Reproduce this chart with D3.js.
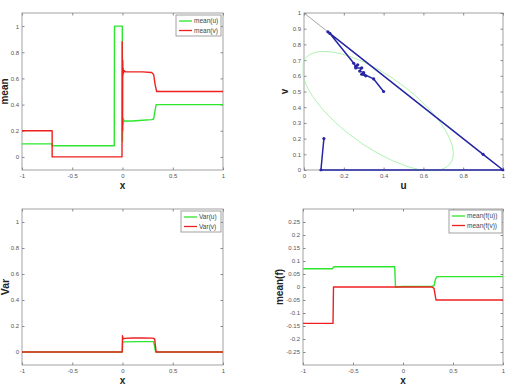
<!DOCTYPE html>
<html>
<head>
<meta charset="utf-8">
<script src="https://cdn.jsdelivr.net/npm/d3@7"></script>
<style>
  body { margin: 0; background: #fff; }
  svg { font-family: "Liberation Sans", Arial, sans-serif; }
</style>
</head>
<body>
<svg id="chart" width="511" height="389"></svg>
<script>
// ---- data ----
// top-left: mean(u), mean(v)
const meanUx = [-1, -0.7, -0.7, -0.082, -0.08, -0.002, 0.0, 0.003, 0.006, 0.01, 0.015, 0.03, 0.1, 0.2, 0.29, 0.31, 0.325, 0.335, 1];
const meanUy = [0.1, 0.1, 0.085, 0.085, 1.0, 1.0, 0.12, 0.3, 0.25, 0.29, 0.27, 0.275, 0.275, 0.28, 0.285, 0.29, 0.36, 0.4, 0.4];
const meanVx = [-1, -0.7, -0.7, -0.005, -0.003, 0.0, 0.002, 0.004, 0.006, 0.01, 0.015, 0.03, 0.1, 0.2, 0.29, 0.31, 0.325, 0.34, 1];
const meanVy = [0.2, 0.2, 0.0, 0.0, 0.88, 0.2, 0.74, 0.62, 0.68, 0.64, 0.66, 0.65, 0.65, 0.65, 0.645, 0.63, 0.55, 0.5, 0.5];

// top-right: phase path (u, v)
const pathU = [0.1, 0.085, 1, 0.9, 0.12, 0.13, 0.25, 0.26, 0.27, 0.26, 0.29, 0.28, 0.3, 0.29, 0.31, 0.3, 0.35, 0.4];
const pathV = [0.2, 0, 0, 0.1, 0.88, 0.87, 0.68, 0.66, 0.67, 0.65, 0.65, 0.63, 0.62, 0.61, 0.6, 0.61, 0.58, 0.5];
const diagU = [0, 1];
const diagV = [1, 0];
// ellipse: center u, center v, semi-axis along (1,-1), semi-axis along (1,1)
const ellipseParams = [0.37, 0.375, 0.497, 0.205];

// bottom-left: Var(u), Var(v)
const varUx = [-1, -0.002, 0.002, 0.02, 0.15, 0.31, 0.33, 1];
const varUy = [0, 0, 0.08, 0.078, 0.08, 0.08, 0, 0];
const varVx = [-1, -0.003, 0.0, 0.005, 0.02, 0.1, 0.2, 0.3, 0.32, 0.335, 1];
const varVy = [0, 0, 0.125, 0.1, 0.105, 0.108, 0.108, 0.107, 0.1, 0, 0];

// bottom-right: mean(f(u)), mean(f(v))
const fUx = [-1, -0.706, -0.69, -0.083, -0.075, 0.0, 0.29, 0.31, 0.325, 0.34, 1];
const fUy = [0.07, 0.07, 0.078, 0.078, 0.0, 0.002, 0.003, 0.005, 0.03, 0.04, 0.04];
const fVx = [-1, -0.7, -0.695, 0.29, 0.31, 0.33, 1];
const fVy = [-0.14, -0.14, 0, 0, -0.005, -0.05, -0.05];

const xTicks = [-1, -0.5, 0, 0.5, 1];
const meanTicks = [0, 0.2, 0.4, 0.6, 0.8, 1];
const uTicks = [0, 0.2, 0.4, 0.6, 0.8, 1];
const vTicks = [0, 0.1, 0.2, 0.3, 0.4, 0.5, 0.6, 0.7, 0.8, 0.9, 1];
const fTicks = [-0.25, -0.2, -0.15, -0.1, -0.05, 0, 0.05, 0.1, 0.15, 0.2, 0.25];

const GREEN = "#2ee62e";
const RED = "#ee1f1f";
const BLUE = "#2626a6";

const svg = d3.select("#chart");

function fmt(d) {
  return String(d);
}

// draw a matlab-like axes box, returns {g, plot, x, y}
function makePanel(box, xDomain, yDomain, xt, yt, xLabel, yLabel, yLabelX, yLabelSize) {
  const x = d3.scaleLinear().domain(xDomain).range([box.left, box.right]);
  const y = d3.scaleLinear().domain(yDomain).range([box.bottom, box.top]);
  const g = svg.append("g");

  // clip slightly outside the box so lines lying on the edge stay whole
  const clipId = "clip" + Math.round(box.left) + "_" + Math.round(box.top);
  svg.append("clipPath").attr("id", clipId)
    .append("rect")
    .attr("x", box.left - 1.5).attr("y", box.top - 1.5)
    .attr("width", box.right - box.left + 3).attr("height", box.bottom - box.top + 3);

  const tickLen = 2.5;
  const axisColor = "#8a8a8a";
  [box.bottom, box.top].forEach((yy, i) => {
    const ax = i === 0 ? d3.axisBottom(x) : d3.axisTop(x);
    const a = g.append("g")
      .attr("transform", `translate(0,${yy})`)
      .call(ax.tickValues(xt).tickSize(-tickLen).tickPadding(4).tickFormat(fmt));
    a.select(".domain").remove();
    a.selectAll("line").attr("stroke", axisColor);
    if (i === 1) a.selectAll("text").remove();
  });
  [box.left, box.right].forEach((xx, i) => {
    const ax = i === 0 ? d3.axisLeft(y) : d3.axisRight(y);
    const a = g.append("g")
      .attr("transform", `translate(${xx},0)`)
      .call(ax.tickValues(yt).tickSize(-tickLen).tickPadding(3).tickFormat(fmt));
    a.select(".domain").remove();
    a.selectAll("line").attr("stroke", axisColor);
    if (i === 1) a.selectAll("text").remove();
  });
  g.selectAll(".tick text")
    .attr("fill", "#555")
    .style("font-size", "6px");

  g.append("rect")
    .attr("x", box.left).attr("y", box.top)
    .attr("width", box.right - box.left).attr("height", box.bottom - box.top)
    .attr("fill", "none").attr("stroke", axisColor).attr("stroke-width", 0.8);

  g.append("text")
    .attr("x", (box.left + box.right) / 2)
    .attr("y", box.bottom + 19)
    .attr("text-anchor", "middle")
    .style("font-size", "10px").style("font-weight", "bold")
    .attr("fill", "#222")
    .text(xLabel);

  g.append("text")
    .attr("transform", `translate(${yLabelX},${(box.top + box.bottom) / 2}) rotate(-90)`)
    .attr("text-anchor", "middle")
    .style("font-size", yLabelSize + "px").style("font-weight", "bold")
    .attr("fill", "#222")
    .text(yLabel);

  const plot = svg.append("g").attr("clip-path", `url(#${clipId})`);
  return { g, plot, x, y };
}

function drawLine(p, xs, ys, color, width) {
  const pts = xs.map((d, i) => [d, ys[i]]);
  p.plot.append("path")
    .datum(pts)
    .attr("fill", "none")
    .attr("stroke", color)
    .attr("stroke-width", width)
    .attr("stroke-linejoin", "round")
    .attr("d", d3.line().x(d => p.x(d[0])).y(d => p.y(d[1])));
}

function legend(box, labels, colors) {
  const lg = svg.append("g");
  lg.append("rect")
    .attr("x", box.x).attr("y", box.y)
    .attr("width", box.w).attr("height", box.h)
    .attr("fill", "#fff").attr("stroke", "#8a8a8a").attr("stroke-width", 0.8);
  labels.forEach((lab, i) => {
    const yy = box.y + 6 + i * 9.5;
    lg.append("line")
      .attr("x1", box.x + 3).attr("x2", box.x + 16)
      .attr("y1", yy).attr("y2", yy)
      .attr("stroke", colors[i]).attr("stroke-width", 1.3);
    lg.append("text")
      .attr("x", box.x + 18).attr("y", yy + 2.3)
      .style("font-size", "6.5px").attr("fill", "#444")
      .text(lab);
  });
}

// ---- top-left ----
const p1 = makePanel({ left: 22, right: 223, top: 13, bottom: 170 },
  [-1, 1], [-0.1, 1.1], xTicks, meanTicks, "x", "mean", 8, 10);
drawLine(p1, meanUx, meanUy, GREEN, 1.4);
drawLine(p1, meanVx, meanVy, RED, 1.4);
legend({ x: 176, y: 15, w: 45, h: 21 }, ["mean(u)", "mean(v)"], [GREEN, RED]);

// ---- top-right ----
const p2 = makePanel({ left: 304, right: 503, top: 13, bottom: 170 },
  [0, 1], [0, 1], uTicks, vTicks, "u", "v", 288, 10);
// ellipse drawn in data space through a matrix built from the scales
{
  const sx = p2.x(1) - p2.x(0);
  const sy = p2.y(1) - p2.y(0);
  const [cu, cv, a, b] = ellipseParams;
  p2.plot.append("ellipse")
    .attr("transform", `matrix(${sx},0,0,${sy},${p2.x(0)},${p2.y(0)}) translate(${cu},${cv}) rotate(-45)`)
    .attr("cx", 0).attr("cy", 0).attr("rx", a).attr("ry", b)
    .attr("fill", "none")
    .attr("stroke", "#9aee9a")
    .attr("stroke-width", 0.8)
    .attr("vector-effect", "non-scaling-stroke");
}
drawLine(p2, diagU, diagV, "#8f8f8f", 0.8);
drawLine(p2, pathU, pathV, BLUE, 1.5);
p2.plot.selectAll("circle.mk")
  .data(pathU.map((d, i) => [d, pathV[i]]))
  .join("circle")
  .attr("class", "mk")
  .attr("cx", d => p2.x(d[0])).attr("cy", d => p2.y(d[1]))
  .attr("r", 1.6).attr("fill", BLUE);

// ---- bottom-left ----
const p3 = makePanel({ left: 22, right: 223, top: 209, bottom: 365 },
  [-1, 1], [-0.1, 1.1], xTicks, meanTicks, "x", "Var", 9, 10.5);
drawLine(p3, varUx, varUy, GREEN, 1.4);
drawLine(p3, varVx, varVy, RED, 1.4);
legend({ x: 181, y: 211, w: 40, h: 21 }, ["Var(u)", "Var(v)"], [GREEN, RED]);

// ---- bottom-right ----
const p4 = makePanel({ left: 303, right: 503, top: 209, bottom: 365 },
  [-1, 1], [-0.3, 0.3], xTicks, fTicks, "x", "mean(f)", 283, 10);
drawLine(p4, fUx, fUy, GREEN, 1.4);
drawLine(p4, fVx, fVy, RED, 1.4);
legend({ x: 449, y: 210, w: 53, h: 23 }, ["mean(f(u))", "mean(f(v))"], [GREEN, RED]);
</script>
</body>
</html>
